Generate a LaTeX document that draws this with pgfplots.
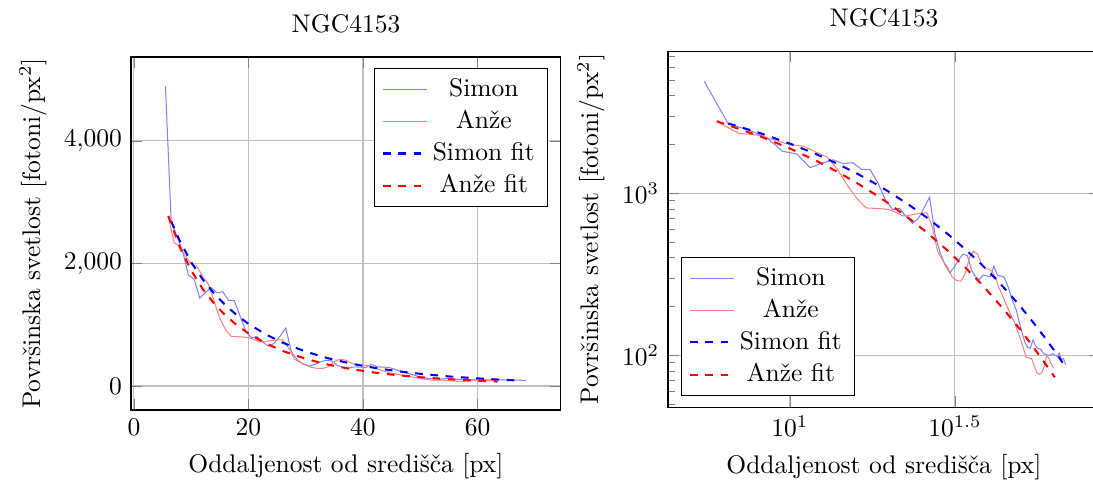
\documentclass[border=0pt]{standalone}
\usepackage{fontspec}
\usepackage{pgfplots}
\usepackage{pgfplotstable}
\pgfplotsset{compat=1.18}

\pgfplotstableread{
x y
5.5 4890
6.5 2680
7.5 2450
8.5 2200
9.5 1810
10.5 1745
11.5 1435
12.5 1530
13.5 1605
14.5 1520
15.5 1540
16.5 1400
17.5 1395
18.5 1150
19.5 900
20.5 790
21.5 805
22.5 715
23.5 650
24.5 698
25.5 810
26.5 945
27.5 560
28.5 430
29.5 360
30.5 322
31.5 350
32.5 390
33.5 420
34.5 410
35.5 335
36.5 305
37.5 292
38.5 312
39.5 308
40.5 304
41.5 354
42.5 312
43.5 308
44.5 304
45.5 275
46.5 240
47.5 212
48.5 190
49.5 160
50.5 138
51.5 120
52.5 112
53.5 110
54.5 124
55.5 114
56.5 110
57.5 109
58.5 103
59.5 101
60.5 100
61.5 100
62.5 102
63.5 100
64.5 98
65.5 103
66.5 94
67.5 95
68.5 87
}\simon

\pgfplotstableread{
x y
6 2760
7 2340
8 2280
9 2120
10 1990
11 1950
12 1790
13 1660
14 1380
15 1100
16 920
17 810
18 805
19 800
20 790
21 760
22 722
23 730
24 742
25 752
26 755
27 620
28 440
29 385
30 350
31 305
32 288
33 286
34 320
35 400
36 438
37 420
38 370
39 345
40 338
41 330
42 300
43 260
44 235
45 210
46 190
47 172
48 158
49 140
50 125
51 110
52 97
53 96
54 95
55 86
56 78
57 76
58 78
59 85
60 100
61 95
62 88
63 83
}\anze

\pgfplotstableread{
x y
6.5 2690
8 2370
10 2020
12 1741
14 1510
16 1317
18 1154
20 1015
23 843
26 706
30 561
34 450
38 364
42 296
46 242
50 199
55 156
60 124
64 103
67.5 88
}\simonfit

\pgfplotstableread{
x y
6 2777
8 2268
10 1885
12 1585
14 1345
16 1150
18 990
20 858
23 696
26 571
30 443
34 347
38 275
42 219
46 176
50 143
55 110
60 86
63.5 73
}\anzefit

\begin{document}
\begin{tikzpicture}
\begin{axis}[
  at={(51.37pt,-160.78pt)}, anchor=south west,
  scale only axis, width=168.63pt, height=138.43pt,
  xmin=-0.52, xmax=74.58, ymin=-392, ymax=5371,
  xtick={0,20,40,60}, ytick={0,2000,4000},
  grid=major,
  title={NGC4153},
  xlabel={Oddaljenost od središča [px]},
  ylabel={Površinska svetlost [fotoni/px$^2$]},
  legend cell align=center,
  legend pos=north east,
]
\addplot[blue!50, thin] table {\simon};
\addplot[red!50, thin] table {\anze};
\addplot[blue, thick, dashed] table {\simonfit};
\addplot[red, thick, dashed] table {\anzefit};
\legend{Simon, Anže, Simon fit, Anže fit}
\end{axis}
\begin{axis}[
  at={(261.96pt,-159.61pt)}, anchor=south west,
  scale only axis, width=169.4pt, height=139.6pt,
  xmode=log, ymode=log,
  xmin=4.27, xmax=87, ymin=47.8, ymax=7534,
  xtick={10,31.6227766}, xticklabels={$10^{1}$,$10^{1.5}$},
  minor xtick={},
  grid=major,
  title={NGC4153},
  xlabel={Oddaljenost od središča [px]},
  ylabel={Površinska svetlost [fotoni/px$^2$]},
  legend cell align=center,
  legend pos=south west,
]
\addplot[blue!50, thin] table {\simon};
\addplot[red!50, thin] table {\anze};
\addplot[blue, thick, dashed] table {\simonfit};
\addplot[red, thick, dashed] table {\anzefit};
\legend{Simon, Anže, Simon fit, Anže fit}
\end{axis}
\pgfresetboundingbox
\path[use as bounding box] (0,0) rectangle (428.63pt,-191.37pt);
\end{tikzpicture}
\end{document}
